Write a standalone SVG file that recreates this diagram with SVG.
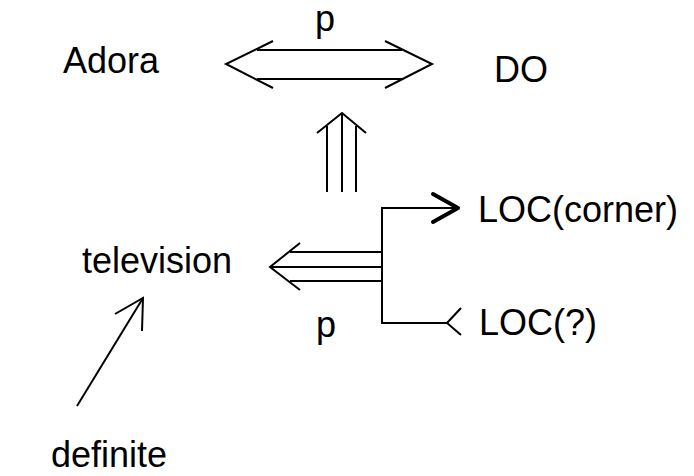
<svg xmlns="http://www.w3.org/2000/svg" width="694" height="476" viewBox="0 0 694 476">
<style>
text{font-family:"Liberation Sans",Arial,sans-serif;font-size:36px;fill:#000}
.l{fill:none;stroke:#000;stroke-width:2}
.t{fill:none;stroke:#000;stroke-width:4;stroke-linecap:round;stroke-linejoin:round}
</style>
<rect width="694" height="476" fill="#fff"/>
<g id="connectors">
<g id="biarrow">
<line class="l" x1="257" y1="50" x2="402" y2="50"/>
<line class="l" x1="257" y1="79" x2="402" y2="79"/>
<polyline class="l" points="273,41 226,64 273,88"/>
<polyline class="l" points="385,41 432,64 385,88"/>
</g>
<g id="uparrow">
<line class="l" x1="327" y1="126" x2="327" y2="192"/>
<line class="l" x1="342" y1="114" x2="342" y2="192"/>
<line class="l" x1="356" y1="126" x2="356" y2="192"/>
<polyline class="l" points="317,133 342,113 366,133"/>
</g>
<g id="leftarrow">
<line class="l" x1="290" y1="252" x2="382" y2="252"/>
<line class="l" x1="271" y1="267" x2="382" y2="267"/>
<line class="l" x1="290" y1="281" x2="382" y2="281"/>
<polyline class="l" points="300,243 270,267 300,290"/>
</g>
<g id="branch">
<polyline class="l" points="458,208 382,208 382,323 447,323"/>
<polyline class="t" points="433,194 458,208 433,222"/>
<polyline class="l" points="461,308 447,323 461,335"/>
</g>
<g id="defarrow">
<line class="l" x1="77" y1="406" x2="143" y2="298"/>
<polyline class="l" points="115,314 143,298 142,331"/>
</g>
</g>
<g id="adora"><text x="63" y="73">Adora</text></g>
<g id="do"><text x="494" y="82">DO</text></g>
<g id="p1"><text x="315" y="31">p</text></g>
<g id="loc-corner"><text x="478" y="222">LOC(corner)</text></g>
<g id="loc-q"><text x="479" y="335">LOC(?)</text></g>
<g id="television"><text x="82" y="273">television</text></g>
<g id="p2"><text x="316" y="337">p</text></g>
<g id="definite"><text x="51" y="467">definite</text></g>
</svg>
